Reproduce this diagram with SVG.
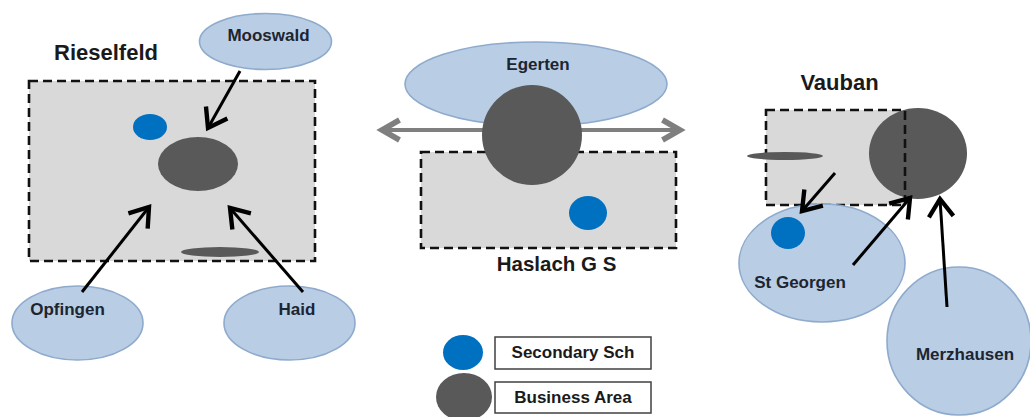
<svg xmlns="http://www.w3.org/2000/svg" width="1030" height="417" viewBox="0 0 1030 417">
<style>
.bg{fill:#ffffff}
.zone{fill:#d9d9d9;stroke:none}
.dash{fill:none;stroke:#111;stroke-width:2.6;stroke-dasharray:9,5}
.town{fill:#b9cde5;stroke:#8eaacc;stroke-width:1.6}
.biz{fill:#595959}
.sch{fill:#0070c0}
.lbl{font-family:"Liberation Sans",Arial,sans-serif;font-weight:bold;font-size:17px;fill:#1c2530;text-anchor:middle}
.head{font-family:"Liberation Sans",Arial,sans-serif;font-weight:bold;font-size:22px;fill:#1a1a1a;text-anchor:middle}
.arr{stroke:#000;stroke-width:3;fill:none;marker-end:url(#ah)}
.garr{stroke:#7f7f7f;stroke-width:4;fill:none;marker-start:url(#gh);marker-end:url(#gh)}
.box{fill:#fff;stroke:#404040;stroke-width:1.5}
</style>
<defs>
<marker id="ah" markerUnits="userSpaceOnUse" markerWidth="30" markerHeight="30" viewBox="-16 -11 20 22" refX="0" refY="0" orient="auto">
<path d="M-13,-9 L0,0 L-13,9" fill="none" stroke="#000" stroke-width="3.2"/>
</marker>
<marker id="gh" markerUnits="userSpaceOnUse" markerWidth="30" markerHeight="30" viewBox="-18 -12 22 24" refX="0" refY="0" orient="auto-start-reverse">
<path d="M-14,-8 L0,0 L-14,8" fill="none" stroke="#7f7f7f" stroke-width="4.5"/>
</marker>
</defs>
<rect class="bg" x="0" y="0" width="1030" height="417"/>

<g id="rieselfeld">
<rect class="zone" x="29" y="81" width="286" height="180"/>
<rect class="dash" x="29" y="81" width="286" height="180"/>
<text class="head" x="106" y="60">Rieselfeld</text>
<ellipse class="sch" cx="150" cy="127" rx="17" ry="13"/>
<ellipse class="biz" cx="198" cy="164" rx="40" ry="27"/>
<ellipse class="biz" cx="220" cy="252" rx="39" ry="5"/>
</g>
<g id="mooswald">
<ellipse class="town" cx="265.5" cy="41.5" rx="66" ry="28"/>
<text class="lbl" x="268.5" y="41">Mooswald</text>
</g>
<g id="opfingen">
<ellipse class="town" cx="77.5" cy="323" rx="65.5" ry="37"/>
<text class="lbl" x="67.5" y="315">Opfingen</text>
</g>
<g id="haid">
<ellipse class="town" cx="289.5" cy="323" rx="65.5" ry="37"/>
<text class="lbl" x="297" y="315">Haid</text>
</g>

<g id="egerten">
<ellipse class="town" cx="536" cy="84" rx="131" ry="42"/>
<text class="lbl" x="538" y="70">Egerten</text>
</g>
<g id="haslach">
<rect class="zone" x="421" y="152" width="255" height="96"/>
<rect class="dash" x="421" y="152" width="255" height="96"/>
<ellipse class="sch" cx="588" cy="213" rx="19" ry="17"/>
<text class="head" x="556.5" y="271" style="font-size:20.5px">Haslach G S</text>
</g>

<g id="vauban">
<rect class="zone" x="766" y="110" width="139" height="95"/>
<ellipse class="biz" cx="918" cy="153.5" rx="49" ry="45.5"/>
<rect class="dash" x="766" y="110" width="139" height="95"/>
<ellipse class="biz" cx="785" cy="156" rx="38" ry="4"/>
<text class="head" x="839.5" y="90">Vauban</text>
</g>
<g id="stgeorgen">
<ellipse class="town" cx="822" cy="263" rx="83" ry="59"/>
<ellipse class="sch" cx="788" cy="233" rx="17" ry="16"/>
<text class="lbl" x="800" y="288">St Georgen</text>
</g>
<g id="merzhausen">
<ellipse class="town" cx="959" cy="341" rx="72" ry="74"/>
<text class="lbl" x="965" y="360">Merzhausen</text>
</g>

<g id="connectors">
<line class="garr" x1="382" y1="130" x2="680" y2="130"/>
<line class="arr" x1="240" y1="71" x2="208" y2="128"/>
<line class="arr" x1="82" y1="292" x2="149" y2="207"/>
<line class="arr" x1="303" y1="292" x2="230" y2="208"/>
<line class="arr" x1="835" y1="173" x2="802" y2="211"/>
<line class="arr" x1="853" y1="265" x2="910" y2="198"/>
<line class="arr" x1="947" y1="307" x2="940" y2="199"/>
</g>
<g id="hub">
<circle class="biz" cx="532" cy="135" r="50"/>
</g>

<g id="legend-school">
<ellipse class="sch" cx="463" cy="352.5" rx="20" ry="17.5"/>
<rect class="box" x="495" y="337" width="156" height="32"/>
<text class="lbl" x="573" y="358" style="fill:#1a1a1a">Secondary Sch</text>
</g>
<g id="legend-business">
<ellipse class="biz" cx="464" cy="397" rx="28" ry="24"/>
<rect class="box" x="495" y="382" width="156" height="31"/>
<text class="lbl" x="573" y="403" style="fill:#1a1a1a">Business Area</text>
</g>
</svg>
